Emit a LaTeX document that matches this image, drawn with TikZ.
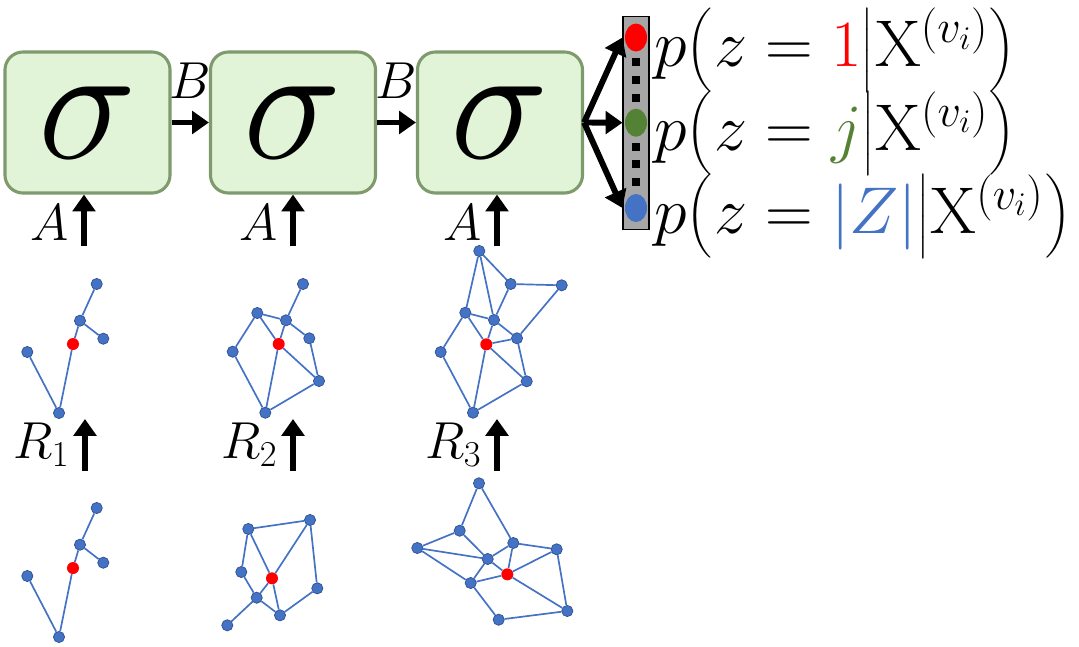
\RequirePackage{fix-cm}
\documentclass[tikz,border=0pt]{standalone}
\usepackage{amsmath}
\usepackage{tikz}
\usetikzlibrary{arrows.meta,shapes.geometric,positioning}
\definecolor{oblue}{HTML}{4472C4}
\definecolor{oblueD}{HTML}{2F528F}
\definecolor{ogreen}{HTML}{548235}
\definecolor{cellfill}{HTML}{E2F4D8}
\definecolor{celldraw}{HTML}{7F9A6C}
\definecolor{bargray}{HTML}{A6A6A6}
% tall delimiters for the output labels
\newcommand{\Lpar}{\mathopen{\left(\vrule height 38pt depth 15pt width 0pt\right.}}
\newcommand{\Rpar}{\mathclose{\left.\vrule height 38pt depth 15pt width 0pt\right)}}
\newcommand{\Mbar}{\mathord{\left|\vrule height 38pt depth 15pt width 0pt\right.}}

\begin{document}
\begin{tikzpicture}[
  x=0.025cm, y=-0.025cm,
  sbox/.style={draw=celldraw, fill=cellfill, line width=2.2pt, rounded corners=0.45cm,
    minimum width=4.125cm, minimum height=3.525cm, inner sep=0pt, font=\fontsize{118}{130}\selectfont},
  fat/.style={line width=4.2pt, -{Triangle[length=12pt,width=16pt]}},
  lbl/.style={font=\fontsize{37}{44}\selectfont, inner sep=1pt},
  ptxt/.style={font=\fontsize{47}{50}\selectfont, inner sep=0pt, anchor=base west},
  gv/.style={circle, draw=oblueD, fill=oblue, line width=0.5pt, minimum size=0.28cm, inner sep=0pt},
  gx/.style={circle, fill=red, minimum size=0.3cm, inner sep=0pt},
  ge/.style={draw=oblue, line width=1.2pt},
  probbar/.style={draw=black, fill=bargray, line width=0.8pt, minimum width=0.65cm,
    minimum height=5.325cm, inner sep=0pt},
  slot/.style={ellipse, minimum width=0.55cm, minimum height=0.7cm, inner sep=0pt},
  dsq/.style={fill=black, minimum size=0.2cm, inner sep=0pt}
]
\useasboundingbox (0,0) rectangle (1079,646);

% ---------- Recurrent cells ----------
\node[sbox] (s1) at (87.5,122.5) {$\sigma$};
\node[sbox] (s2) at (293,122.5) {$\sigma$};
\node[sbox] (s3) at (500,122.5) {$\sigma$};
\draw[fat] (s1) -- node[above=14pt, lbl] {$B$} (s2);
\draw[fat] (s2) -- node[above=14pt, lbl] {$B$} (s3);

% ---------- Inputs A and R ----------
\coordinate (a1) at (84,246);
\coordinate (a2) at (293,246);
\coordinate (a3) at (497,246);
\draw[fat] (a1) -- node[left=8pt, yshift=-2pt, lbl] {$A$} (a1 |- s1.south);
\draw[fat] (a2) -- node[left=8pt, yshift=-2pt, lbl] {$A$} (a2 |- s2.south);
\draw[fat] (a3) -- node[left=8pt, yshift=-2pt, lbl] {$A$} (a3 |- s3.south);

\coordinate (r1b) at (85,471);  \coordinate (r1t) at (85,419);
\coordinate (r2b) at (293,471); \coordinate (r2t) at (293,419);
\coordinate (r3b) at (497,471); \coordinate (r3t) at (497,419);
\draw[fat] (r1b) -- node[left=8pt, lbl] {$R_1$} (r1t);
\draw[fat] (r2b) -- node[left=8pt, lbl] {$R_2$} (r2t);
\draw[fat] (r3b) -- node[left=8pt, lbl] {$R_3$} (r3t);

% ---------- Graphs, first column (same in both rows) ----------
\foreach \g/\dy in {u1/0, w1/224} {
  \begin{scope}[shift={(0,\dy)}]
    \foreach \n/\x/\y in {t/96.7/284, m/80/320.7, r/103.3/338.7, l/27.3/352, b/59/413}
      \node[gv] (\g\n) at (\x,\y) {};
    \node[gx] (\g x) at (73,344) {};
    \foreach \u/\v in {t/m, m/r, m/x, x/b, l/b}
      \draw[ge] (\g\u) -- (\g\v);
  \end{scope}
}

% ---------- Graphs, second column ----------
\foreach \n/\x/\y in {a/303/284, b/257.3/313, c/286/320.3, d/309.3/338.3, e/232.7/351.7, f/319/381, g/265.3/412.7}
  \node[gv] (u2\n) at (\x,\y) {};
\node[gx] (u2x) at (278.7,344) {};
\foreach \u/\v in {a/c, b/c, b/x, c/x, c/d, b/e, e/g, g/x, x/f, d/f, g/f}
  \draw[ge] (u2\u) -- (u2\v);

\foreach \n/\x/\y in {a/248.3/529, b/310/520, c/241.3/572, d/317.3/588.3, e/256.7/597.7, f/280/615.3, g/227.3/625.3}
  \node[gv] (w2\n) at (\x,\y) {};
\node[gx] (w2x) at (272,578.3) {};
\foreach \u/\v in {a/b, a/c, a/x, b/x, b/d, c/e, x/e, x/f, e/f, e/g, d/f}
  \draw[ge] (w2\u) -- (w2\v);

% ---------- Graphs, third column ----------
\foreach \n/\x/\y in {a/479.3/251, b/510.7/284, c/561.7/285.3, d/465.3/312.7, e/494/320, f/517/338.3, g/440.7/352, h/526.7/381.3, i/473/412.7}
  \node[gv] (u3\n) at (\x,\y) {};
\node[gx] (u3x) at (486.3,344.3) {};
\foreach \u/\v in {a/d, a/e, a/b, b/c, b/e, c/f, d/e, d/x, d/g, e/f, e/x, x/f, f/h, x/h, x/i, g/i, i/h}
  \draw[ge] (u3\u) -- (u3\v);

\foreach \n/\x/\y in {a/479/483.3, b/459.7/530.7, c/417.3/548, d/513.3/543, e/556.7/549.3, f/487.7/559, g/470.7/583, h/567.3/611, i/498.7/619.7}
  \node[gv] (w3\n) at (\x,\y) {};
\node[gx] (w3x) at (507.3,574.3) {};
\foreach \u/\v in {a/b, a/d, b/c, b/f, c/f, c/g, d/e, d/f, d/x, e/x, e/h, f/x, f/g, g/x, g/i, x/h, i/h}
  \draw[ge] (w3\u) -- (w3\v);

% ---------- Output distribution ----------
\node[probbar] (sbar) at (636,123) {};
\node[slot, fill=red] (o1) at (636,37.5) {};
\node[slot, fill=ogreen] (oj) at (636,122.7) {};
\node[slot, fill=oblue] (oZ) at (636,208) {};
\foreach \y in {61.7, 80, 98.3, 146.7, 164, 182.3}
  \node[dsq] at (636,\y) {};
\draw[fat] (s3.east) -- (o1 -| sbar.west);
\draw[fat] (s3.east) -- (oj -| sbar.west);
\draw[fat] (s3.east) -- (oZ -| sbar.west);

\node[ptxt] (p1) at (654,66.7) {$p\Lpar z=\textcolor{red}{1}\Mbar\mathrm{X}^{(v_i)}\Rpar$};
\node[ptxt] (pj) at (654,150) {$p\Lpar z=\textcolor{ogreen}{j}\Mbar\mathrm{X}^{(v_i)}\Rpar$};
\node[ptxt] (pZ) at (654,233) {$p\Lpar z=\textcolor{oblue}{|Z|}\Mbar\mathrm{X}^{(v_i)}\Rpar$};

\end{tikzpicture}
\end{document}
